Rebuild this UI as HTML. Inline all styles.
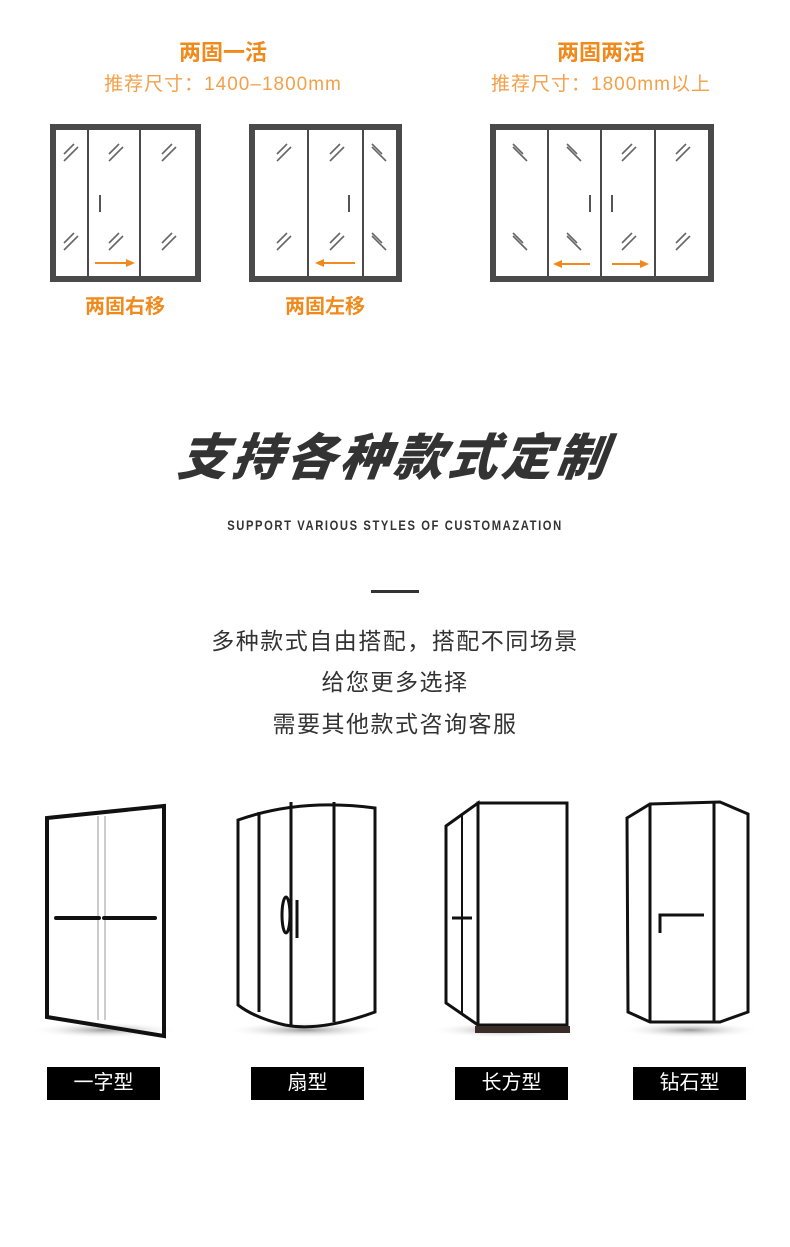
<!DOCTYPE html>
<html><head><meta charset="utf-8"><style>
body{margin:0;background:#fff;width:790px;height:1247px;overflow:hidden;position:relative;font-family:"Liberation Sans","Noto Sans CJK SC",sans-serif}
.t{position:absolute;text-align:center;white-space:nowrap}
.or{color:#f08a1c;font-weight:bold;font-size:22px}
.sub{color:#f3a04a;font-size:19px;letter-spacing:1px}
.lab{position:absolute;background:#000;color:#fff;font-size:20px;text-align:center;line-height:33px;height:33px;width:113px;top:1067px}
.p{color:#333;font-size:23px;left:0;width:790px;letter-spacing:1.5px}
</style></head><body>
<div class="t or" style="left:123px;width:200px;top:35px">两固一活</div>
<div class="t sub" style="left:73px;width:300px;top:69px">推荐尺寸：1400–1800mm</div>
<div class="t or" style="left:501px;width:200px;top:35px">两固两活</div>
<div class="t sub" style="left:451px;width:300px;top:69px">推荐尺寸：1800mm以上</div>
<div class="t or" style="left:25px;width:200px;top:290px;font-size:20px">两固右移</div>
<div class="t or" style="left:225px;width:200px;top:290px;font-size:20px">两固左移</div>
<svg style="position:absolute;left:0;top:0" width="790" height="340">
<defs>
<g id="f"><line x1="0" y1="10" x2="10" y2="0" stroke="#666" stroke-width="1.6"/><line x1="0" y1="17" x2="14" y2="3" stroke="#666" stroke-width="1.6"/></g>
<g id="b"><line x1="0" y1="0" x2="10" y2="10" stroke="#666" stroke-width="1.6"/><line x1="0" y1="3" x2="14" y2="17" stroke="#666" stroke-width="1.6"/></g>
</defs>
<g fill="none" stroke="#4a4a4a">
<rect x="53" y="127" width="145" height="152" stroke-width="6"/>
<line x1="88" y1="127" x2="88" y2="279" stroke-width="2"/><line x1="140" y1="127" x2="140" y2="279" stroke-width="2"/>
<rect x="252" y="127" width="147" height="152" stroke-width="6"/>
<line x1="308" y1="127" x2="308" y2="279" stroke-width="2"/><line x1="363" y1="127" x2="363" y2="279" stroke-width="2"/>
<rect x="493" y="127" width="218" height="152" stroke-width="6"/>
<line x1="548" y1="127" x2="548" y2="279" stroke-width="2"/><line x1="601" y1="127" x2="601" y2="279" stroke-width="2"/><line x1="655" y1="127" x2="655" y2="279" stroke-width="2"/>
</g>
<g>
<use href="#f" x="64" y="144"/><use href="#f" x="64" y="233"/>
<use href="#f" x="109" y="144"/><use href="#f" x="109" y="233"/>
<use href="#f" x="162" y="144"/><use href="#f" x="162" y="233"/>
<use href="#f" x="277" y="144"/><use href="#f" x="277" y="233"/>
<use href="#f" x="330" y="144"/><use href="#f" x="330" y="233"/>
<use href="#b" x="372" y="144"/><use href="#b" x="372" y="233"/>
<use href="#b" x="513" y="144"/><use href="#b" x="513" y="233"/>
<use href="#b" x="567" y="144"/><use href="#b" x="567" y="233"/>
<use href="#f" x="622" y="144"/><use href="#f" x="622" y="233"/>
<use href="#f" x="676" y="144"/><use href="#f" x="676" y="233"/>
</g>
<g stroke="#555" stroke-width="2"><line x1="100" y1="195" x2="100" y2="212"/><line x1="349" y1="195" x2="349" y2="212"/><line x1="590" y1="195" x2="590" y2="212"/><line x1="612" y1="195" x2="612" y2="212"/></g>
<g fill="#f08a1c" stroke="#f08a1c" stroke-width="2">
<line x1="95" y1="263" x2="128" y2="263"/><polygon points="126,259 135,263 126,267" stroke="none"/>
<line x1="355" y1="263" x2="322" y2="263"/><polygon points="324,259 315,263 324,267" stroke="none"/>
<line x1="590" y1="264" x2="560" y2="264"/><polygon points="562,260 553,264 562,268" stroke="none"/>
<line x1="612" y1="264" x2="642" y2="264"/><polygon points="640,260 649,264 640,268" stroke="none"/>
</g>
</svg>
<div class="t" style="left:0;width:790px;top:418px;font-size:50px;font-weight:900;font-style:italic;color:#333;letter-spacing:4px;transform:skewX(-8deg)">支持各种款式定制</div>
<div class="t" style="left:0;width:790px;top:517px;font-size:14px;font-weight:bold;color:#333;letter-spacing:2px;transform:scaleX(0.8)">SUPPORT VARIOUS STYLES OF CUSTOMAZATION</div>
<div style="position:absolute;left:371px;top:590px;width:48px;height:3px;background:#333"></div>
<div class="t p" style="top:622px">多种款式自由搭配，搭配不同场景</div>
<div class="t p" style="top:663px">给您更多选择</div>
<div class="t p" style="top:705px">需要其他款式咨询客服</div>
<svg style="position:absolute;left:0;top:790px" width="790" height="260">
<defs><radialGradient id="sh"><stop offset="0" stop-color="#999"/><stop offset="1" stop-color="#fff" stop-opacity="0"/></radialGradient></defs>
<ellipse cx="105" cy="240" rx="75" ry="8" fill="url(#sh)"/>
<ellipse cx="305" cy="240" rx="80" ry="8" fill="url(#sh)"/>
<ellipse cx="505" cy="240" rx="75" ry="8" fill="url(#sh)"/>
<ellipse cx="690" cy="240" rx="70" ry="8" fill="url(#sh)"/>
<g fill="none" stroke="#111">
<polygon points="47,28 164,16 164,246 47,227" stroke-width="4"/>
<line x1="98" y1="26" x2="98" y2="230" stroke="#ccc" stroke-width="2"/><line x1="105" y1="26" x2="105" y2="230" stroke="#ccc" stroke-width="2"/>
<line x1="56" y1="128" x2="99" y2="128" stroke-width="4" stroke-linecap="round"/><line x1="104" y1="128" x2="155" y2="128" stroke-width="4" stroke-linecap="round"/>
<path d="M238,30 Q300,8 375,18 L375,222 Q320,242 285,235 Q255,228 238,215 Z" stroke-width="3"/>
<line x1="259" y1="22" x2="259" y2="222" stroke-width="3"/><line x1="291" y1="12" x2="291" y2="236" stroke-width="3"/><line x1="334" y1="12" x2="334" y2="232" stroke-width="3"/>
<ellipse cx="286" cy="125" rx="4" ry="18" stroke-width="3"/><line x1="297" y1="110" x2="297" y2="148" stroke-width="3"/>
<rect x="478" y="13" width="89" height="222" stroke-width="3"/>
<polygon points="446,36 478,13 478,235 446,213" stroke-width="3"/>
<line x1="462" y1="24" x2="462" y2="224" stroke-width="2"/>
<line x1="452" y1="128" x2="472" y2="128" stroke-width="3"/>
<polygon points="627,28 650,14 720,12 748,24 748,222 720,232 650,232 628,222" stroke-width="3"/>
<line x1="650" y1="14" x2="650" y2="232" stroke-width="3"/><line x1="714" y1="12" x2="714" y2="232" stroke-width="3"/>
<polyline points="660,143 660,125 704,125" stroke-width="3"/>
</g>
<rect x="475" y="236" width="95" height="7" fill="#3a2c28"/>
</svg>
<div class="lab" style="left:47px">一字型</div>
<div class="lab" style="left:251px">扇型</div>
<div class="lab" style="left:455px">长方型</div>
<div class="lab" style="left:633px">钻石型</div>
</body></html>
